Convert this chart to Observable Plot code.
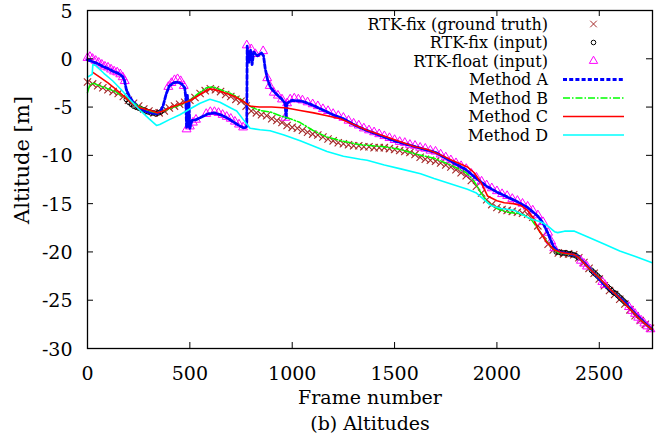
<!DOCTYPE html>
<html>
<head>
<meta charset="utf-8">
<script src="https://cdn.jsdelivr.net/npm/d3@7"></script>
<script src="https://cdn.jsdelivr.net/npm/@observablehq/plot@0.6"></script>
<style>
  html, body { margin: 0; padding: 0; background: white; }
  #chart svg, #chart svg text, #chart svg tspan { font-family: "DejaVu Serif", "Liberation Serif", serif !important; }
</style>
</head>
<body>
<div id="chart"></div>
<script>
// ---------- data ----------
const xTicks = [0, 500, 1000, 1500, 2000, 2500];
const yTicks = [-30, -25, -20, -15, -10, -5, 0, 5];

// RTK-fix (ground truth)
const gtFrame = [0,25,50,75,100,125,150,175,200,225,250,275,300,325,350,375,400,425,450,475,500,525,550,575,600,625,650,675,700,725,750,775,800,825,850,875,900,925,950,975,1000,1025,1050,1075,1100,1125,1150,1175,1200,1225,1250,1275,1300,1325,1350,1375,1400,1425,1450,1475,1500,1525,1550,1575,1600,1625,1650,1675,1700,1725,1750,1775,1800,1825,1850,1875,1900,1925,1950,1975,2000,2025,2050,2075,2100,2125,2150,2175,2200,2225,2250,2275,2300,2325,2350,2375,2400,2425,2450,2475,2500,2525,2550,2575,2600,2625,2650,2675,2700,2725,2750];
const gtAlt = [-2.4,-2.6,-2.8,-3.0,-3.2,-3.4,-3.6,-3.9,-4.3,-4.6,-4.9,-5.2,-5.4,-5.6,-5.6,-5.4,-5.1,-4.9,-4.7,-4.5,-4.3,-4.0,-3.6,-3.3,-3.1,-3.2,-3.4,-3.7,-3.9,-4.2,-4.4,-4.9,-5.4,-5.6,-5.8,-5.9,-6.2,-6.4,-6.6,-6.9,-7.1,-7.2,-7.4,-7.6,-7.8,-7.9,-8.1,-8.3,-8.5,-8.7,-8.8,-8.9,-9.0,-9.0,-9.1,-9.1,-9.2,-9.2,-9.2,-9.3,-9.4,-9.5,-9.6,-9.7,-9.9,-10.2,-10.4,-10.5,-10.6,-10.8,-11.0,-11.2,-11.5,-11.8,-12.1,-12.6,-13.2,-13.9,-14.6,-15.1,-15.4,-15.6,-15.7,-15.8,-15.9,-16.0,-16.1,-16.4,-17.3,-18.3,-19.2,-19.8,-20.1,-20.2,-20.2,-20.3,-20.6,-21.1,-21.7,-22.2,-22.8,-23.5,-24.0,-24.4,-24.9,-25.4,-26.0,-26.6,-27.1,-27.5,-27.9];

// RTK-fix (input)
const fixFrame = [190,202,214,226,238,250,262,274,286,298,310,322,334,346,358,370,2290,2302,2314,2326,2338,2350,2362,2374,2386,2398,2462,2472,2482,2492,2502,2540,2550,2560,2570,2580,2590,2600,2610,2620,2630];
const fixAlt = [-4.2,-4.5,-4.7,-4.9,-5.0,-5.1,-5.2,-5.3,-5.4,-5.5,-5.6,-5.6,-5.7,-5.6,-5.5,-5.3,-20.0,-20.0,-20.1,-20.1,-20.1,-20.2,-20.2,-20.3,-20.4,-20.6,-21.9,-22.1,-22.3,-22.5,-22.7,-23.6,-23.8,-24.0,-24.2,-24.3,-24.5,-24.7,-24.9,-25.1,-25.3];

// RTK-float (input)
const floatFrame = [0,12,25,40,55,70,85,100,115,130,145,160,172,182,395,410,425,440,455,470,484,500,515,530,580,600,620,640,660,680,700,720,740,760,778,800,820,858,878,890,910,930,950,966,975,990,1010,1030,1050,1075,1100,1125,1150,1175,1200,1225,1250,1275,1300,1325,1350,1375,1400,1425,1450,1475,1500,1525,1550,1575,1600,1625,1650,1675,1700,1725,1750,1775,1800,1825,1850,1875,1900,1925,1950,1975,2000,2025,2050,2075,2100,2125,2150,2175,2200,2225,2250,2265,2280,2410,2425,2440,2515,2527,2645,2660,2675,2690,2705,2720,2735,2750];
const floatAlt = [0.1,0.2,0.0,-0.2,-0.4,-0.6,-0.8,-0.9,-1.1,-1.3,-1.4,-1.6,-1.9,-2.3,-2.9,-2.5,-2.2,-2.1,-2.3,-2.8,-7.3,-7.0,-6.6,-6.3,-5.7,-5.5,-5.5,-5.6,-5.8,-6.0,-6.2,-6.5,-6.8,-7.1,1.4,1.0,0.5,0.8,-2.0,-2.8,-3.5,-3.8,-4.2,-6.1,-4.6,-4.2,-4.1,-4.2,-4.3,-4.5,-4.7,-4.9,-5.2,-5.4,-5.7,-5.9,-6.1,-6.4,-6.7,-6.9,-7.2,-7.4,-7.6,-7.8,-8.0,-8.2,-8.4,-8.6,-8.7,-8.9,-9.0,-9.2,-9.3,-9.5,-9.6,-9.9,-10.2,-10.5,-10.8,-11.1,-11.4,-11.9,-12.3,-12.7,-13.1,-13.4,-13.7,-14.0,-14.2,-14.5,-14.7,-15.0,-15.3,-15.7,-16.2,-16.9,-18.0,-18.9,-19.6,-20.9,-21.2,-21.5,-23.1,-23.4,-25.7,-26.1,-26.4,-26.8,-27.1,-27.4,-27.7,-28.0];

// Method A
const aFrame = [0,25,50,75,100,125,150,170,180,190,205,220,250,280,310,337,355,370,385,400,420,440,460,475,480,484,488,492,496,500,510,530,560,590,620,650,680,710,740,765,778,780,788,796,804,812,830,850,860,868,880,895,920,950,965,970,975,1000,1050,1100,1150,1200,1250,1300,1350,1400,1450,1500,1550,1600,1650,1700,1750,1800,1850,1900,1950,2000,2050,2100,2150,2200,2225,2250,2275,2300,2350,2390,2425,2475,2525,2575,2625,2675,2725,2755];
const aAlt = [-0.1,-0.3,-0.5,-0.8,-1.0,-1.3,-1.5,-1.8,-2.2,-3.2,-3.9,-4.4,-5.0,-5.4,-5.6,-5.7,-5.5,-4.8,-3.6,-2.8,-2.5,-2.4,-2.6,-3.0,-4.0,-7.2,-3.8,-7.0,-4.5,-7.2,-6.4,-6.3,-6.0,-5.7,-5.6,-5.8,-6.1,-6.5,-6.9,-7.2,-7.0,1.3,-0.4,0.9,-0.6,0.7,0.3,0.6,0.3,-1.0,-2.2,-3.0,-3.6,-4.2,-4.6,-6.2,-4.6,-4.3,-4.4,-4.8,-5.3,-5.8,-6.2,-6.8,-7.3,-7.7,-8.1,-8.5,-8.8,-9.1,-9.4,-9.7,-10.3,-10.9,-11.5,-12.4,-13.2,-13.8,-14.3,-14.8,-15.4,-16.3,-17.0,-18.1,-19.4,-20.0,-20.2,-20.4,-21.1,-22.2,-23.4,-24.3,-25.2,-26.4,-27.4,-28.0];

// Method B
const bFrame = [0,10,26,60,124,170,206,260,300,337,370,410,451,500,540,581,614,650,700,745,778,810,843,892,941,990,1039,1100,1170,1240,1333,1448,1530,1610,1693,1775,1850,1889,1920,1954,2000,2052,2100,2134,2170,2200,2230,2265,2300,2380,2400,2450,2500,2550,2600,2650,2700,2755];
const bAlt = [-3.5,-2.8,-2.5,-2.8,-3.3,-3.8,-4.35,-5.0,-5.4,-5.6,-5.4,-5.1,-4.8,-4.3,-3.6,-3.0,-2.9,-3.2,-3.6,-4.1,-4.7,-5.1,-5.35,-5.5,-5.9,-6.2,-6.6,-7.4,-8.1,-8.5,-8.9,-9.1,-9.4,-9.9,-10.3,-11.0,-11.8,-12.7,-13.8,-14.9,-15.5,-15.9,-16.0,-16.2,-16.7,-17.6,-18.5,-19.5,-20.1,-20.3,-20.6,-21.7,-22.7,-23.8,-24.8,-25.9,-27.0,-28.0];

// Method C
const cFrame = [26,60,100,130,157,190,222,260,300,340,370,410,451,500,550,598,640,680,720,760,794,840,900,974,1039,1105,1170,1235,1300,1366,1448,1529,1600,1660,1720,1780,1856,1889,1922,1954,2000,2036,2080,2118,2150,2175,2200,2240,2281,2320,2380,2400,2450,2500,2550,2600,2650,2700,2755];
const cAlt = [-1.4,-1.9,-2.5,-3.0,-3.5,-4.1,-4.7,-5.1,-5.3,-5.6,-5.4,-5.0,-4.7,-4.35,-3.7,-3.1,-3.3,-3.6,-3.9,-4.4,-4.9,-5.0,-5.0,-5.1,-5.35,-5.6,-5.9,-6.2,-6.8,-7.4,-8.0,-8.6,-9.1,-9.4,-9.9,-10.5,-11.2,-11.8,-12.8,-14.2,-14.7,-14.9,-15.0,-15.2,-15.7,-16.4,-17.6,-18.9,-19.8,-20.1,-20.3,-20.6,-21.7,-22.7,-23.8,-24.8,-25.9,-27.0,-28.0];

// Method D
const dFrame = [0,23,26,40,80,124,165,206,250,300,337,353,400,451,500,550,598,647,700,729,761,794,843,892,960,1039,1100,1170,1250,1333,1366,1450,1530,1627,1693,1780,1856,1900,1971,2020,2085,2167,2216,2248,2281,2297,2330,2379,2450,2526,2600,2680,2755];
const dAlt = [-1.9,-1.6,-0.6,-0.7,-1.5,-2.3,-3.2,-4.2,-5.2,-6.2,-6.9,-6.8,-6.3,-5.8,-5.2,-4.6,-4.2,-4.5,-5.1,-5.4,-6.3,-7.2,-7.35,-7.45,-7.9,-8.5,-9.0,-9.6,-10.1,-10.4,-10.5,-11.0,-11.4,-11.9,-12.4,-13.0,-13.5,-13.9,-15.2,-15.5,-15.7,-16.6,-16.9,-17.3,-17.9,-18.0,-17.85,-17.85,-18.5,-19.2,-19.9,-20.5,-21.1];

const seriesLabels = ["RTK-fix (ground truth)", "RTK-fix (input)", "RTK-float (input)", "Method A", "Method B", "Method C", "Method D"];
const xLabel = "Frame number";
const yLabel = "Altitude [m]";
const captionText = "(b) Altitudes";

// ---------- tables built from the arrays ----------
const zip = (fs, as) => fs.map((f, i) => ({f, a: as[i]}));
const gtData = zip(gtFrame, gtAlt);
const fixData = zip(fixFrame, fixAlt);
const floatData = zip(floatFrame, floatAlt);
const aData = zip(aFrame, aAlt);
const bData = zip(bFrame, bAlt);
const cData = zip(cFrame, cAlt);
const dData = zip(dFrame, dAlt);

// ---------- styles ----------
const FONT = "\"DejaVu Serif\", \"Liberation Serif\", serif";
const COL = {gt: "#a52a2a", fix: "#000000", float: "#ff00ff", A: "#0000ff", B: "#00ff00", C: "#ff0000", D: "#00ffff"};
const LINE = {
  A: {stroke: COL.A, strokeWidth: 2.8, strokeDasharray: "4,2.2"},
  B: {stroke: COL.B, strokeWidth: 1.5, strokeDasharray: "7,2,1.5,2"},
  C: {stroke: COL.C, strokeWidth: 1.6},
  D: {stroke: COL.D, strokeWidth: 1.6}
};

const W = 661, H = 443, mL = 87, mR = 9, mT = 10, mB = 95;
const fw = W - mL - mR, fh = H - mT - mB, tickLen = 6;
const fmt = d => String(d);

// legend + y label drawn as a render-function mark
const annotationMark = () => {
  const g = d3.create("svg:g").attr("font-family", FONT).attr("fill", "black");
  const lg = g.append("g").attr("font-size", 16);
  const textRight = 548, top = 24, step = 18.5, x1 = 563, x2 = 624, xs = 593.5;
  seriesLabels.forEach((label, i) => {
    const y = top + i * step;
    lg.append("text").attr("x", textRight).attr("y", y).attr("dy", "0.35em").attr("text-anchor", "end").text(label);
    if (i === 0) {
      lg.append("path").attr("transform", `translate(${xs},${y})`).attr("d", d3.symbol(d3.symbolTimes, 30)()).attr("fill", "none").attr("stroke", COL.gt).attr("stroke-width", 1);
    } else if (i === 1) {
      lg.append("circle").attr("cx", xs).attr("cy", y).attr("r", 2.3).attr("fill", "none").attr("stroke", COL.fix).attr("stroke-width", 1);
    } else if (i === 2) {
      lg.append("path").attr("transform", `translate(${xs},${y})`).attr("d", d3.symbol(d3.symbolTriangle, 30)()).attr("fill", "none").attr("stroke", COL.float).attr("stroke-width", 1);
    } else {
      const st = LINE["ABCD"[i - 3]];
      lg.append("line").attr("x1", x1).attr("x2", x2).attr("y1", y).attr("y2", y)
        .attr("stroke", st.stroke).attr("stroke-width", st.strokeWidth)
        .attr("stroke-dasharray", st.strokeDasharray || null);
    }
  });
  g.append("text").attr("transform", "translate(22,160) rotate(-90)")
    .attr("text-anchor", "middle").attr("dy", "0.35em").attr("font-size", 21).text(yLabel);
  return g.node();
};

const chart = Plot.plot({
  width: W, height: H,
  marginLeft: mL, marginRight: mR, marginTop: mT, marginBottom: mB,
  style: {fontFamily: FONT, fontSize: "19px", background: "white", color: "black", overflow: "visible"},
  x: {domain: [0, 2760]},
  y: {domain: [-30, 5]},
  marks: [
    // data
    Plot.dot(gtData, {x: "f", y: "a", symbol: "times", r: 3.4, stroke: COL.gt, strokeWidth: 1.1, fill: "none"}),
    Plot.dot(fixData, {x: "f", y: "a", symbol: "circle", r: 2.4, stroke: COL.fix, strokeWidth: 1, fill: "none"}),
    Plot.dot(floatData, {x: "f", y: "a", symbol: "triangle", r: 3.3, stroke: COL.float, strokeWidth: 1, fill: "none"}),
    Plot.line(aData, {x: "f", y: "a", ...LINE.A}),
    Plot.line(bData, {x: "f", y: "a", ...LINE.B}),
    Plot.line(cData, {x: "f", y: "a", ...LINE.C}),
    Plot.line(dData, {x: "f", y: "a", ...LINE.D}),
    // axes: inward ticks on all four sides
    Plot.tickX(xTicks, {x: d => d, insetTop: fh - tickLen, stroke: "black"}),
    Plot.tickX(xTicks, {x: d => d, insetBottom: fh - tickLen, stroke: "black"}),
    Plot.tickY(yTicks, {y: d => d, insetRight: fw - tickLen, stroke: "black"}),
    Plot.tickY(yTicks, {y: d => d, insetLeft: fw - tickLen, stroke: "black"}),
    Plot.axisX(xTicks, {anchor: "bottom", tickSize: 0, tickPadding: 18, label: null, fontSize: 19, tickFormat: fmt}),
    Plot.axisY(yTicks, {anchor: "left", tickSize: 0, tickPadding: 15, label: null, fontSize: 19, tickFormat: fmt, dy: 1}),
    Plot.frame({stroke: "black", strokeWidth: 1.3}),
    Plot.text([xLabel], {frameAnchor: "bottom", dy: 55, fontSize: 19}),
    Plot.text([captionText], {frameAnchor: "bottom", dy: 81, fontSize: 19}),
    annotationMark
  ]
});
document.getElementById("chart").appendChild(chart);
</script>
</body>
</html>
